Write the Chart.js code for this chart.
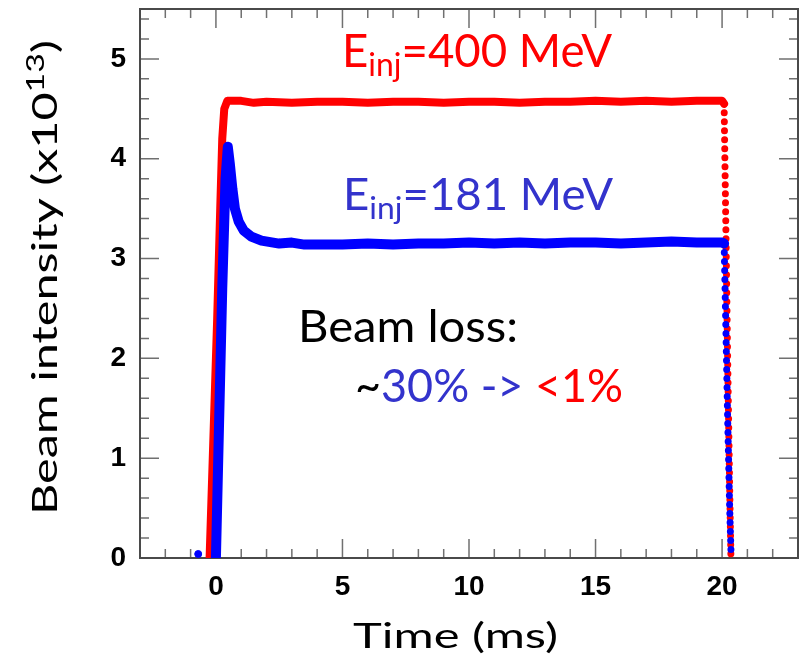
<!DOCTYPE html>
<html>
<head>
<meta charset="utf-8">
<script src="https://cdn.jsdelivr.net/npm/chart.js@4/dist/chart.umd.min.js"></script>
<style>
  html, body { margin: 0; padding: 0; background: #fff; }
</style>
</head>
<body>
<canvas id="chart" width="803" height="667"></canvas>
<script>
// axis ranges and labelled ticks
const xRange = [-3, 23];
const yRange = [0, 5.5];
const xMajorTicks = [0, 5, 10, 15, 20];
const yMajorTicks = [0, 1, 2, 3, 4, 5];

// E_inj = 400 MeV (time in ms, intensity in 1e13)
const red400Time = [-0.25, -0.1, 0.05, 0.17, 0.25, 0.33, 0.45, 1, 1.5, 2, 3, 4, 5, 6, 7, 8, 9, 10, 11, 12, 13, 14, 15, 16, 17, 18, 19, 20, 20.08];
const red400Value = [0, 1.2, 2.4, 3.5, 4.2, 4.5, 4.58, 4.58, 4.56, 4.57, 4.56, 4.57, 4.57, 4.56, 4.57, 4.57, 4.56, 4.57, 4.57, 4.56, 4.57, 4.57, 4.58, 4.57, 4.58, 4.57, 4.58, 4.58, 4.55];
const red400FallTime = [20.08, 20.15, 20.22, 20.3, 20.35];
const red400FallValue = [4.55, 3.3, 2.0, 0.7, 0];

// E_inj = 181 MeV
const blue181Time = [0, 0.12, 0.25, 0.38, 0.47, 0.55, 0.65, 0.75, 0.9, 1.1, 1.4, 1.8, 2.5, 3, 3.5, 4, 5, 6, 7, 8, 9, 10, 11, 12, 13, 14, 15, 16, 17, 18, 19, 20, 20.08];
const blue181Value = [0, 1.3, 2.7, 3.8, 4.12, 3.95, 3.7, 3.5, 3.37, 3.28, 3.22, 3.18, 3.15, 3.16, 3.14, 3.14, 3.14, 3.15, 3.14, 3.15, 3.15, 3.16, 3.15, 3.16, 3.15, 3.16, 3.16, 3.15, 3.16, 3.17, 3.16, 3.16, 3.15];
const blue181FallTime = [20.08, 20.15, 20.22, 20.3, 20.36];
const blue181FallValue = [3.15, 2.3, 1.4, 0.5, 0];
const blue181StrayTime = [-0.7];
const blue181StrayValue = [0.04];

const RED = "#ff0000";
const BLUE = "#0000ff";
const TXT_RED = "#ff0000";
const TXT_BLUE = "#3333cc";
const TEXT_FONT = "Lato";

const pts = (xs, ys) => xs.map((x, i) => ({ x, y: ys[i] }));

// text pieces drawn on the canvas, fitted to the width seen in the picture
const annotations = [
  { x: 342, y: 67, size: 46, w: 270, runs: [["E", TXT_RED], ["inj", TXT_RED, "sub"], ["=400 MeV", TXT_RED]] },
  { x: 343, y: 210, size: 45, w: 270, runs: [["E", TXT_BLUE], ["inj", TXT_BLUE, "sub"], ["=181 MeV", TXT_BLUE]] },
  { x: 298, y: 342, size: 45, w: 220, runs: [["Beam loss:", "#000"]] },
  { x: 355, y: 402, size: 46, w: 268, runs: [["~", "#000"], ["30% -> ", TXT_BLUE], ["<1%", TXT_RED]] },
  { x: 353, y: 648, size: 35, w: 205, runs: [["Time (ms)", "#000"]] },
  { x: 57, y: 515, size: 35, w: 475, rot: true, runs: [["Beam intensity (x10", "#000"], ["13", "#000", "sup"], [")", "#000"]] },
];

function drawRuns(ctx, a) {
  const fontOf = (kind) => `${kind ? a.size * 0.7 : a.size}px "${TEXT_FONT}"`;
  ctx.save();
  ctx.translate(a.x, a.y);
  if (a.rot) ctx.rotate(-Math.PI / 2);
  let total = 0;
  a.runs.forEach(([t, , kind]) => { ctx.font = fontOf(kind); total += ctx.measureText(t).width; });
  ctx.scale(a.w / total, 1);
  ctx.textBaseline = "alphabetic";
  ctx.textAlign = "left";
  let cx = 0;
  a.runs.forEach(([t, color, kind]) => {
    ctx.font = fontOf(kind);
    ctx.fillStyle = color;
    const dy = kind === "sub" ? a.size * 0.2 : kind === "sup" ? -a.size * 0.38 : 0;
    ctx.fillText(t, cx, dy);
    cx += ctx.measureText(t).width;
  });
  ctx.restore();
}

const frame = {
  id: "frame",
  beforeDatasetsDraw(chart) {
    const { ctx, chartArea: a, scales: { x, y } } = chart;
    ctx.save();
    ctx.strokeStyle = "#707070";
    ctx.lineWidth = 1.5;
    ctx.beginPath();
    for (let v = xRange[0]; v <= xRange[1]; v += 1) {
      const px = x.getPixelForValue(v);
      const len = xMajorTicks.includes(v) ? 19 : 9;
      ctx.moveTo(px, a.bottom); ctx.lineTo(px, a.bottom - len);
      ctx.moveTo(px, a.top); ctx.lineTo(px, a.top + len);
    }
    for (let i = 0; i <= 27; i++) {
      const py = y.getPixelForValue(i * 0.2);
      const len = i % 5 === 0 ? 19 : 9;
      ctx.moveTo(a.left, py); ctx.lineTo(a.left + len, py);
      ctx.moveTo(a.right, py); ctx.lineTo(a.right - len, py);
    }
    ctx.stroke();
    ctx.strokeStyle = "#4a4a4a";
    ctx.lineWidth = 2;
    ctx.strokeRect(a.left, a.top, a.right - a.left, a.bottom - a.top);
    ctx.restore();
  },
  afterDraw(chart) {
    annotations.forEach((a) => drawRuns(chart.ctx, a));
  },
};

const lineSet = (data, color, width, order) => ({
  data, showLine: true, borderColor: color, backgroundColor: color,
  borderWidth: width, pointRadius: 0, borderCapStyle: "round", borderJoinStyle: "round", order,
});

const dotSet = (data, color, order) => ({
  data, showLine: true, borderColor: color, backgroundColor: color,
  borderWidth: 7, borderDash: [0, 9], borderCapStyle: "round", pointRadius: 0, order,
});

new Chart(document.getElementById("chart"), {
  type: "scatter",
  data: {
    datasets: [
      lineSet(pts(blue181Time, blue181Value), BLUE, 10, 1),
      dotSet(pts(blue181FallTime, blue181FallValue), BLUE, 1),
      { data: pts(blue181StrayTime, blue181StrayValue), backgroundColor: BLUE, borderColor: BLUE, pointRadius: 3.5, order: 1 },
      lineSet(pts(red400Time, red400Value), RED, 8, 2),
      dotSet(pts(red400FallTime, red400FallValue), RED, 2),
    ],
  },
  options: {
    responsive: false,
    animation: false,
    layout: { padding: { top: 9, right: 4, left: 0, bottom: 0 } },
    plugins: { legend: { display: false }, tooltip: { enabled: false } },
    scales: {
      x: {
        type: "linear", min: xRange[0], max: xRange[1],
        afterBuildTicks: (s) => { s.ticks = xMajorTicks.map((value) => ({ value })); },
        afterFit: (s) => { s.height = 109; s.paddingLeft = 0; s.paddingRight = 0; },
        grid: { display: false, drawTicks: false },
        border: { display: false },
        ticks: { color: "#000", padding: 12, font: { family: "Liberation Sans", weight: "bold", size: 28 } },
      },
      y: {
        type: "linear", min: yRange[0], max: yRange[1],
        afterBuildTicks: (s) => { s.ticks = yMajorTicks.map((value) => ({ value })); },
        afterFit: (s) => { s.width = 140; s.paddingTop = 0; s.paddingBottom = 0; },
        grid: { display: false, drawTicks: false },
        border: { display: false },
        ticks: { color: "#000", padding: 14, font: { family: "Liberation Sans", weight: "bold", size: 28 } },
      },
    },
  },
  plugins: [frame],
});
</script>
</body>
</html>
